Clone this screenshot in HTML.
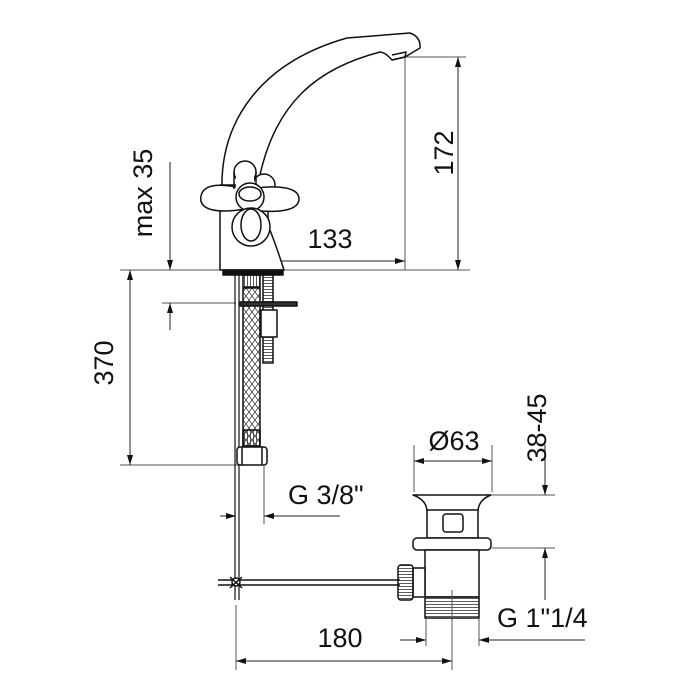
<!DOCTYPE html>
<html><head><meta charset="utf-8"><style>
html,body{margin:0;padding:0;background:#fff}
svg{display:block}
text{font-family:"Liberation Sans",sans-serif;font-size:27px;fill:#111}
</style></head><body>
<svg width="696" height="696" viewBox="0 0 696 696" xmlns="http://www.w3.org/2000/svg">
<defs>
<marker id="a" viewBox="0 0 10 6" refX="10" refY="3" markerWidth="10" markerHeight="6" orient="auto-start-reverse" markerUnits="userSpaceOnUse"><path d="M0,0L10,3L0,6z" fill="#111"/></marker>
<pattern id="br" width="6" height="8" patternUnits="userSpaceOnUse"><path d="M0,0L6,8M6,0L0,8" stroke="#333" stroke-width="0.7"/></pattern>
<pattern id="rib" width="4" height="3" patternUnits="userSpaceOnUse"><path d="M0,1.5H4" stroke="#333" stroke-width="0.8"/></pattern>
<pattern id="ribv" width="3" height="4" patternUnits="userSpaceOnUse"><path d="M1.5,0V4" stroke="#333" stroke-width="0.8"/></pattern>
</defs>
<g fill="none" stroke="#555" stroke-width="1">
<line x1="120" y1="270" x2="470" y2="270"/>
<line x1="120" y1="465" x2="240" y2="465"/>
<line x1="162" y1="303" x2="236" y2="303"/>
<line x1="405" y1="55" x2="405" y2="270"/>
<line x1="405" y1="57" x2="466" y2="57"/>
<line x1="264" y1="466" x2="264" y2="524"/>
<line x1="414" y1="445" x2="414" y2="492"/>
<line x1="492" y1="445" x2="492" y2="492"/>
<line x1="492" y1="495" x2="555" y2="495"/>
<line x1="492" y1="548" x2="555" y2="548"/>
<line x1="236" y1="605" x2="236" y2="670"/>
<line x1="452" y1="590" x2="452" y2="670"/>
<line x1="426" y1="618" x2="426" y2="646"/>
<line x1="479" y1="618" x2="479" y2="646"/>
</g>
<g fill="none" stroke="#222" stroke-width="1">
<line x1="243" y1="261" x2="405" y2="261" marker-start="url(#a)" marker-end="url(#a)"/>
<line x1="458" y1="57" x2="458" y2="270" marker-start="url(#a)" marker-end="url(#a)"/>
<line x1="170" y1="162" x2="170" y2="270" marker-end="url(#a)"/>
<line x1="170" y1="330" x2="170" y2="303" marker-end="url(#a)"/>
<line x1="130" y1="270" x2="130" y2="465" marker-start="url(#a)" marker-end="url(#a)"/>
<line x1="220" y1="516" x2="236" y2="516" marker-end="url(#a)"/>
<line x1="340" y1="516" x2="264" y2="516" marker-end="url(#a)"/>
<line x1="414" y1="461" x2="492" y2="461" marker-start="url(#a)" marker-end="url(#a)"/>
<line x1="545" y1="445" x2="545" y2="495" marker-end="url(#a)"/>
<line x1="545" y1="600" x2="545" y2="548" marker-end="url(#a)"/>
<line x1="236" y1="661" x2="452" y2="661" marker-start="url(#a)" marker-end="url(#a)"/>
<line x1="400" y1="640" x2="426" y2="640" marker-end="url(#a)"/>
<line x1="585" y1="640" x2="479" y2="640" marker-end="url(#a)"/>
</g>
<g fill="#fff" stroke="#111" stroke-width="1.5" stroke-linejoin="round">
<path d="M222,190 C220,120 262,62 347,38 L410,33 Q421,37 420,48 L405,57 L392,60 Q385,52 380,52 C320,68 272,100 257,190 Z"/>
<path d="M392,60 L405,57 L406,52 L392,55" fill="none"/>
<path d="M220,185 L220,270 L284,270 Q276,245 268,225 L268,185 Z"/>
<rect x="223" y="270" width="60" height="5" fill="#111"/>
<circle cx="264" cy="185" r="11"/>
<circle cx="245" cy="172" r="11"/>
<path d="M245,189 C225,184 204,182 201,196 C198,212 222,213 245,209 C270,213 297,213 299,200 C300,186 275,185 250,189 Z"/>
<rect x="236" y="172" width="18" height="20" stroke="none"/>
<line x1="234" y1="172" x2="234" y2="189"/>
<line x1="256" y1="172" x2="256" y2="189"/>
<circle cx="250" cy="197" r="14"/>
<ellipse cx="250" cy="194" rx="11" ry="7"/>
<ellipse cx="251" cy="227" rx="19" ry="19"/>
<ellipse cx="251" cy="225" rx="10" ry="16"/>
<line x1="235" y1="275" x2="235" y2="600" stroke-width="1.2"/>
<line x1="239" y1="275" x2="239" y2="600" stroke-width="1.2"/>
<rect x="243" y="288" width="17" height="158" fill="url(#br)"/>
<rect x="243" y="275" width="17" height="12" fill="url(#ribv)"/>
<rect x="243" y="430" width="17" height="16" fill="url(#ribv)"/>
<rect x="237" y="447" width="30" height="18" rx="3"/>
<line x1="242" y1="447" x2="242" y2="465"/><line x1="262" y1="447" x2="262" y2="465"/>
<rect x="263" y="275" width="10" height="88" fill="url(#rib)"/>
<rect x="240" y="302" width="57" height="4" fill="#333"/>
<rect x="261" y="310" width="16" height="27"/>
<path d="M413,495 L491,495 Q478,500 478,512 L478,538 L427,538 L427,512 Q427,500 413,495 Z"/>
<line x1="427" y1="510" x2="478" y2="510"/>
<rect x="443" y="514" width="20" height="18" rx="3"/>
<rect x="413" y="538" width="78" height="12" rx="4"/>
<rect x="425" y="550" width="54" height="47"/>
<rect x="425" y="597" width="54" height="21" fill="url(#rib)"/>
<line x1="218" y1="580" x2="400" y2="580"/>
<line x1="218" y1="585" x2="400" y2="585"/>
<rect x="413" y="568" width="12" height="29"/>
<rect x="398" y="565" width="15" height="35" rx="3" fill="url(#rib)"/>
<circle cx="236" cy="582" r="4"/>
<line x1="230" y1="577" x2="242" y2="588"/><line x1="242" y1="577" x2="230" y2="588"/>
</g>
<line x1="452" y1="590" x2="452" y2="618" stroke="#555"/>
<text x="161" y="202" text-anchor="middle" transform="rotate(-90 152 202)">max 35</text>
<text x="122" y="372" text-anchor="middle" transform="rotate(-90 113 372)">370</text>
<text x="463" y="163" text-anchor="middle" transform="rotate(-90 453 163)">172</text>
<text x="546" y="446" text-anchor="middle" transform="rotate(-90 537 437)">38-45</text>
<text x="330" y="248" text-anchor="middle">133</text>
<text x="288" y="504">G 3/8"</text>
<text x="454" y="450" text-anchor="middle">Ø63</text>
<text x="340" y="647" text-anchor="middle">180</text>
<text x="497" y="627">G 1"1/4</text>
</svg>
</body></html>
